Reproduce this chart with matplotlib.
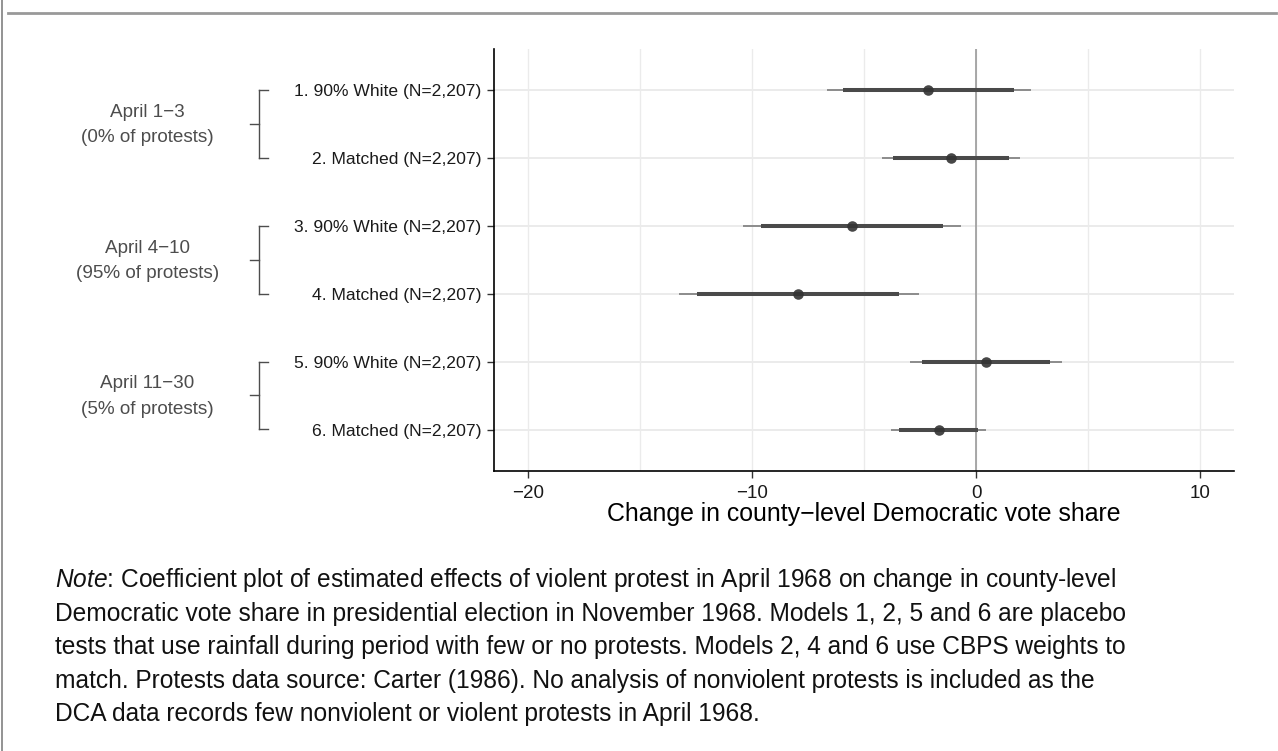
import matplotlib
matplotlib.use("Agg")
import matplotlib.pyplot as plt
from matplotlib.lines import Line2D

plt.rcParams['font.family'] = ['Liberation Sans', 'DejaVu Sans']
plt.rcParams['mathtext.fontset'] = 'custom'
plt.rcParams['mathtext.rm'] = 'Liberation Sans'
plt.rcParams['mathtext.it'] = 'Liberation Sans:italic'

# ---- data ----
models = ["1. 90% White (N=2,207)", "2. Matched (N=2,207)",
          "3. 90% White (N=2,207)", "4. Matched (N=2,207)",
          "5. 90% White (N=2,207)", "6. Matched (N=2,207)"]
estimates = [-2.14, -1.14, -5.56, -7.95, 0.42, -1.68]
ci90_low = [-5.94, -3.70, -9.63, -12.46, -2.42, -3.45]
ci90_high = [1.68, 1.45, -1.49, -3.44, 3.28, 0.09]
ci95_low = [-6.68, -4.20, -10.40, -13.30, -2.97, -3.79]
ci95_high = [2.43, 1.94, -0.70, -2.57, 3.83, 0.45]
groups = ["April 1\u22123\n(0% of protests)",
          "April 4\u221210\n(95% of protests)",
          "April 11\u221230\n(5% of protests)"]
x_ticks = [-20, -10, 0, 10]
x_label = "Change in county\u2212level Democratic vote share"
note_lines = [
    r"$\it{Note}$: Coefficient plot of estimated effects of violent protest in April 1968 on change in county-level",
    "Democratic vote share in presidential election in November 1968. Models 1, 2, 5 and 6 are placebo",
    "tests that use rainfall during period with few or no protests. Models 2, 4 and 6 use CBPS weights to",
    "match. Protests data source: Carter (1986). No analysis of nonviolent protests is included as the",
    "DCA data records few nonviolent or violent protests in April 1968.",
]

W, H = 1278, 751
fig = plt.figure(figsize=(W / 100, H / 100), dpi=100)

def fx(px):
    return px / W

def fy(py):
    return 1 - py / H

ax = fig.add_axes([fx(494), fy(470.7), fx(1234.3) - fx(494), fy(49.3) - fy(470.7)])

ypos = list(range(1, len(models) + 1))
ax.set_xlim(-21.54, 11.52)
ax.set_ylim(6.6, 0.4)

# grid
for v in [-20, -15, -10, -5, 0, 5, 10]:
    ax.axvline(v, color='#EBEBEB', lw=1.0, zorder=0)
for y in ypos:
    ax.axhline(y, color='#EBEBEB', lw=1.4, zorder=0)
ax.axvline(0, color='#9A9A9A', lw=1.2, zorder=1)

for y, e, l9, h9, l5, h5 in zip(ypos, estimates, ci90_low, ci90_high, ci95_low, ci95_high):
    ax.plot([l5, h5], [y, y], color='#8C8C8C', lw=1.4, solid_capstyle='butt', zorder=2)
    ax.plot([l9, h9], [y, y], color='#4A4A4A', lw=2.9, solid_capstyle='butt', zorder=3)
    ax.plot([e], [y], 'o', color='#333333', ms=7.6, alpha=0.9, mec='none', zorder=4)

ax.set_yticks(ypos)
ax.set_yticklabels(models, fontsize=12.6, color='#1A1A1A')
ax.set_xticks(x_ticks)
ax.set_xticklabels([("\u2212" + str(-t)) if t < 0 else str(t) for t in x_ticks],
                   fontsize=13.5, color='#1A1A1A')
ax.tick_params(axis='y', length=5, width=1, pad=4, color='#333333')
ax.tick_params(axis='x', length=5, width=1, pad=5, color='#333333')
ax.set_xlabel(x_label, fontsize=17.9, labelpad=0, color='black')
for s in ['top', 'right']:
    ax.spines[s].set_visible(False)
for s in ['left', 'bottom']:
    ax.spines[s].set_linewidth(1.2)
    ax.spines[s].set_color('black')

# group brackets and labels
bx = 259.3
for gi, g in enumerate(groups):
    y1 = 90.3 + gi * 2 * 67.8
    y2 = y1 + 67.8
    ym = (y1 + y2) / 2
    col = '#4D4D4D'
    fig.add_artist(Line2D([fx(bx), fx(bx)], [fy(y1), fy(y2)], color=col, lw=1.0))
    fig.add_artist(Line2D([fx(bx), fx(268)], [fy(y1), fy(y1)], color=col, lw=1.0))
    fig.add_artist(Line2D([fx(bx), fx(268)], [fy(y2), fy(y2)], color=col, lw=1.0))
    fig.add_artist(Line2D([fx(250), fx(bx)], [fy(ym), fy(ym)], color=col, lw=1.0))
    fig.text(fx(147.5), fy(ym + 1), g, ha='center', va='center', fontsize=13.6,
             color='#4D4D4D', linespacing=1.65)

# frame lines
fig.add_artist(Line2D([fx(2), fx(2)], [0, 1], color='#8A8A8A', lw=1.3))
fig.add_artist(Line2D([fx(8), fx(1276)], [fy(13), fy(13)], color='#999999', lw=2.0))

# note
for i, line in enumerate(note_lines):
    fig.text(fx(55), fy(580 + i * 33.6), line, ha='left', va='center',
             fontsize=17.65, color='#111111')

fig.savefig("out.png", dpi=100)
